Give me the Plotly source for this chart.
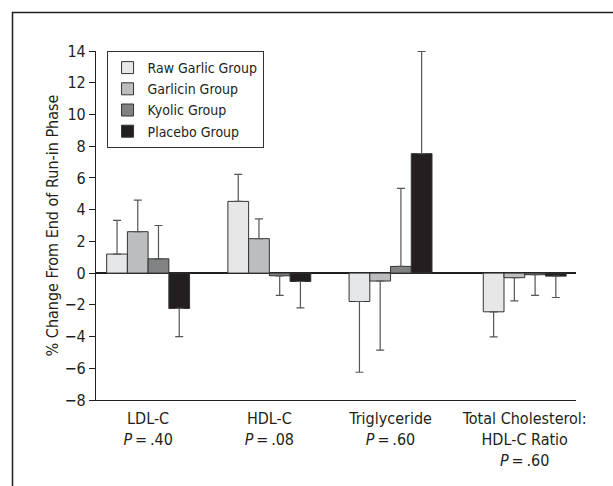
import plotly.graph_objects as go

categories = ["LDL-C<br><i>P</i>\u2009=\u2009.40",
              "HDL-C<br><i>P</i>\u2009=\u2009.08",
              "Triglyceride<br><i>P</i>\u2009=\u2009.60",
              "Total Cholesterol:<br>HDL-C Ratio<br><i>P</i>\u2009=\u2009.60"]
cat_pos = [0, 1, 2, 3.107]

groups = ["Raw Garlic Group", "Garlicin Group", "Kyolic Group", "Placebo Group"]
raw_garlic = [1.2, 4.52, -1.79, -2.44]
garlicin = [2.61, 2.17, -0.5, -0.29]
kyolic = [0.9, -0.17, 0.42, -0.1]
placebo = [-2.23, -0.53, 7.53, -0.19]

# error bar end points (one-sided, in the direction of the bar)
raw_garlic_err = [3.32, 6.22, -6.25, -4.02]
garlicin_err = [4.6, 3.42, -4.86, -1.75]
kyolic_err = [3.0, -1.41, 5.34, -1.41]
placebo_err = [-4.0, -2.19, 13.98, -1.54]

values = [raw_garlic, garlicin, kyolic, placebo]
errs = [raw_garlic_err, garlicin_err, kyolic_err, placebo_err]
colors = ["#e6e7e8", "#bcbdbf", "#808284", "#231f20"]

FONT = "Liberation Sans Narrow, Arial Narrow, DejaVu Sans Condensed, sans-serif"

bar_w = 0.171
fig = go.Figure()
for i, (name, vals, ends, col) in enumerate(zip(groups, values, errs, colors)):
    up = [max(e - v, 0) if v >= 0 else 0 for v, e in zip(vals, ends)]
    down = [max(v - e, 0) if v < 0 else 0 for v, e in zip(vals, ends)]
    fig.add_trace(go.Bar(
        name=name, x=cat_pos, y=vals,
        width=bar_w, offset=-2 * bar_w + i * bar_w,
        marker=dict(color=col, line=dict(color="#333333", width=1)),
        error_y=dict(type="data", symmetric=False, array=up, arrayminus=down,
                     color="#555555", thickness=1.2, width=4),
    ))

fig.update_layout(
    width=613, height=486,
    margin=dict(l=96, r=37, t=51, b=86, autoexpand=False),
    paper_bgcolor="white", plot_bgcolor="white",
    barmode="overlay",
    font=dict(family=FONT, size=16, color="#231f20"),
    showlegend=True,
    legend=dict(x=0.022, y=1.0, xanchor="left", yanchor="top",
                bordercolor="#333333", borderwidth=1, bgcolor="white",
                font=dict(family=FONT, size=14, color="#231f20"),
                tracegroupgap=0, itemwidth=30),
    xaxis=dict(range=[-0.43, 3.53], tickvals=cat_pos, ticktext=categories,
               showline=True, linecolor="#231f20", linewidth=1.2,
               ticks="", showgrid=False, zeroline=False, automargin=False,
               ticklabelstandoff=4,
               tickfont=dict(family=FONT, size=16)),
    yaxis=dict(range=[-8, 14], dtick=2, tick0=0,
               showline=True, linecolor="#231f20", linewidth=1.2,
               ticks="outside", ticklen=6, tickcolor="#231f20", tickwidth=1.2,
               showgrid=False, zeroline=True, zerolinecolor="#231f20", zerolinewidth=1.5,
               automargin=False,
               tickfont=dict(family=FONT, size=16),
               title=dict(text="% Change From End of Run-in Phase",
                          font=dict(family=FONT, size=16), standoff=1)),
    shapes=[dict(type="rect", xref="paper", yref="paper",
                 x0=(12.5 - 96) / 480, x1=(625 - 96) / 480,
                 y0=(400 - 500) / 349, y1=1 + (51 - 12.5) / 349,
                 line=dict(color="#231f20", width=1.5), layer="below")],
)

fig.write_html("out.html", config={"displayModeBar": False},
               post_script="document.body.style.margin='0';")
